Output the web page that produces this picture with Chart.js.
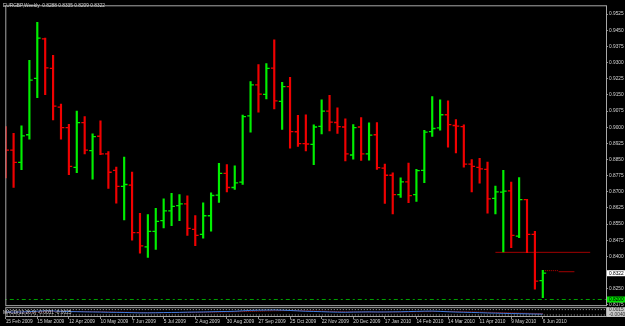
<!DOCTYPE html>
<html lang="en">
<head>
<meta charset="UTF-8">
<title>EURGBP Weekly</title>
<script src="https://cdn.jsdelivr.net/npm/chart.js@4.4.1/dist/chart.umd.min.js"></script>
<style>
  html, body { margin: 0; padding: 0; background: #000; }
  #wrap { width: 625px; height: 326px; }
</style>
</head>
<body>
<div id="wrap"><canvas id="fx" width="625" height="326"></canvas></div>
<script>
// weekly OHLC, one entry per week starting 15 Feb 2009
const symbolTitle = 'EURGBP,Weekly  0.8288 0.8335 0.8209 0.8322';
const opens = [0.8930,0.8894,0.8837,0.8965,0.9227, 0.9410,0.9273,0.9093,0.8998,0.8814,
  0.9021,0.8891,0.8958,0.8876,0.8800, 0.8725,0.8731,0.8511,0.8444,0.8516,
  0.8566,0.8612,0.8636,0.8644,0.8526, 0.8502,0.8589,0.8685,0.8786,0.8720,
  0.8745,0.9053,0.9197,0.9153,0.9274, 0.9120,0.9189,0.8979,0.8924,0.8920,
  0.9004,0.9075,0.9022,0.9001,0.8871, 0.9001,0.8876,0.8965,0.8810,0.8777,
  0.8687,0.8746,0.8687,0.8800,0.8980, 0.8997,0.9058,0.9008,0.9003,0.8829,
  0.8814,0.8804,0.8670,0.8699,0.8704, 0.8494,0.8664,0.8502,0.8288];
const highs = [0.9003,0.8972,0.9006,0.9311,0.9487, 0.9414,0.9334,0.9108,0.9013,0.9075,
  0.9049,0.8969,0.9030,0.8887,0.8815, 0.8861,0.8792,0.8600,0.8594,0.8623,
  0.8667,0.8693,0.8687,0.8681,0.8590, 0.8649,0.8695,0.8832,0.8827,0.8821,
  0.9056,0.9212,0.9291,0.9295,0.9406, 0.9209,0.9232,0.9055,0.9058,0.9011,
  0.9127,0.9148,0.9090,0.9039,0.9012, 0.9045,0.9020,0.9021,0.8829,0.8788,
  0.8765,0.8833,0.8804,0.8986,0.9142, 0.9127,0.9123,0.9036,0.9011,0.8850,
  0.8856,0.8838,0.8727,0.8800,0.8745, 0.8766,0.8665,0.8516,0.8335];
const lows = [0.8765,0.8720,0.8803,0.8945,0.9137, 0.9151,0.9034,0.8945,0.8780,0.8789,
  0.8876,0.8759,0.8873,0.8716,0.8647, 0.8569,0.8475,0.8415,0.8395,0.8432,
  0.8532,0.8543,0.8566,0.8498,0.8450, 0.8485,0.8517,0.8651,0.8699,0.8711,
  0.8734,0.8977,0.9070,0.9131,0.9085, 0.8990,0.8903,0.8911,0.8890,0.8826,
  0.8969,0.8983,0.8971,0.8844,0.8852, 0.8846,0.8847,0.8804,0.8646,0.8597,
  0.8674,0.8650,0.8655,0.8743,0.8957, 0.8986,0.8907,0.8881,0.8814,0.8699,
  0.8740,0.8601,0.8597,0.8421,0.8441, 0.8487,0.8418,0.8248,0.8209];
const closes = [0.8894,0.8837,0.8960,0.9219,0.9414, 0.9276,0.9098,0.8998,0.8818,0.9021,
  0.8894,0.8956,0.8876,0.8791,0.8725, 0.8734,0.8511,0.8449,0.8516,0.8563,
  0.8612,0.8632,0.8644,0.8530,0.8498, 0.8589,0.8683,0.8786,0.8720,0.8742,
  0.9049,0.9197,0.9154,0.9273,0.9122, 0.9189,0.8980,0.8924,0.8922,0.9001,
  0.9075,0.9024,0.9003,0.8876,0.8998, 0.8876,0.8963,0.8812,0.8777,0.8687,
  0.8746,0.8682,0.8798,0.8977,0.8994, 0.9058,0.9012,0.9005,0.8829,0.8818,
  0.8807,0.8667,0.8700,0.8703,0.8498, 0.8664,0.8502,0.8285,0.8322];

// indicator pane (blue main line, red dotted signal)
const macdLine = [-0.0009,-0.0010,-0.0009,-0.0006,-0.0001, 0.0002,0.0001,-0.0002,-0.0005,-0.0006,
  -0.0008,-0.0009,-0.0010,-0.0012,-0.0013, -0.0014,-0.0016,-0.0018,-0.0018,-0.0017,
  -0.0015,-0.0014,-0.0013,-0.0011,-0.0010, -0.0009,-0.0007,-0.0005,-0.0004,-0.0002,
  0.0003,0.0007,0.0009,0.0010,0.0011, 0.0009,0.0006,0.0002,-0.0002,-0.0004,
  -0.0006,-0.0009,-0.0011,-0.0012,-0.0010, -0.0009,-0.0008,-0.0009,-0.0009,-0.0008,
  -0.0007,-0.0005,-0.0003,-0.0001,0.0000, -0.0003,-0.0007,-0.0010,-0.0012,-0.0014,
  -0.0016,-0.0019,-0.0021,-0.0023,-0.0025, -0.0026,-0.0028,-0.0030,-0.0031];
const signalLine = [-0.0012,-0.0012,-0.0011,-0.0010,-0.0008, -0.0006,-0.0004,-0.0003,-0.0003,-0.0004,
  -0.0005,-0.0006,-0.0007,-0.0008,-0.0010, -0.0011,-0.0012,-0.0014,-0.0015,-0.0016,
  -0.0016,-0.0015,-0.0015,-0.0014,-0.0013, -0.0012,-0.0011,-0.0010,-0.0008,-0.0007,
  -0.0005,-0.0003,-0.0001,0.0001,0.0003, 0.0004,0.0005,0.0004,0.0003,0.0001,
  -0.0001,-0.0003,-0.0005,-0.0007,-0.0008, -0.0008,-0.0009,-0.0009,-0.0009,-0.0009,
  -0.0009,-0.0008,-0.0007,-0.0006,-0.0005, -0.0004,-0.0004,-0.0005,-0.0007,-0.0008,
  -0.0010,-0.0012,-0.0014,-0.0016,-0.0018, -0.0020,-0.0022,-0.0024,-0.0025];
const macdLevels = [0.0015, -0.0040];
const macdText = 'MACD(12,26,9) -0.0031 -0.0025';

// date labels every 4 weeks, price labels every 0.0075
const dateLabels = ['15 Feb 2009','15 Mar 2009','12 Apr 2009','10 May 2009','7 Jun 2009',
  '5 Jul 2009','2 Aug 2009','30 Aug 2009','27 Sep 2009','25 Oct 2009','22 Nov 2009',
  '20 Dec 2009','17 Jan 2010','14 Feb 2010','14 Mar 2010','11 Apr 2010','9 May 2010','6 Jun 2010'];
const priceTicks = [0.9525,0.9450,0.9375,0.9300,0.9225,0.9150,0.9075,0.9000,0.8925,0.8850,
  0.8775,0.8700,0.8625,0.8550,0.8475,0.8400,0.8325,0.8250,0.8175];

// horizontal lines drawn on the chart: [price, fromWeek, toWeek]
const supportLine = [0.8419, 62, 74];
const highMarkLine = [0.8334, 68, 70];
const bidMarkLine = [0.8329, 70, 72];
const alertLevel = 0.8200;

const weeks = opens.map((_, i) => i);
const UP = '#00f000', DOWN = '#f00000';
const colorOf = i => closes[i] >= opens[i] ? UP : DOWN;
const barColors = weeks.map(colorOf);
const FONT = "'Liberation Sans', Arial, sans-serif";
const TEXT = '#d4d4d4';

function hline(spec, color, dash, axis) {
  return {
    type: 'line', yAxisID: axis || 'y',
    data: [{x: spec[1], y: spec[0]}, {x: spec[2], y: spec[0]}],
    borderColor: color, borderWidth: 1, borderDash: dash || [],
    pointRadius: 0, fill: false
  };
}

const overlay = {
  id: 'overlay',
  beforeDraw(chart) {
    const c = chart.ctx;
    c.save();
    c.fillStyle = '#000';
    c.fillRect(0, 0, chart.width, chart.height);
    c.restore();
  },
  afterDraw(chart) {
    const c = chart.ctx, a = chart.chartArea, y = chart.scales.y, y2 = chart.scales.y2;
    c.save();
    c.strokeStyle = '#a8a8a8';
    c.lineWidth = 1;
    c.strokeRect(a.left + 0.5, y.top + 0.5, a.right - a.left, y.bottom - y.top - 1);
    c.strokeRect(a.left + 0.5, y2.top + 1.5, a.right - a.left, y2.bottom - y2.top - 2);

    c.font = '4.8px ' + FONT;
    c.textBaseline = 'middle';
    c.fillStyle = TEXT;
    c.fillText(symbolTitle, 3, 5.5);
    c.fillText(macdText, 3, y2.getPixelForValue(macdLine[macdLine.length - 1]) - 1);

    const box = (v, bg, fg) => {
      const py = y.getPixelForValue(v);
      c.fillStyle = bg;
      c.fillRect(a.right + 1, py - 3, chart.width - a.right - 1, 6);
      c.fillStyle = fg;
      c.fillText(v.toFixed(4), a.right + 3, py + 0.3);
    };
    box(closes[closes.length - 1], '#ffffff', '#000000');
    box(alertLevel, '#00e000', '#000000');

    c.fillStyle = '#c8c8c8';
    c.fillRect(a.right + 1, y2.top + 1, chart.width - a.right - 1, y2.bottom - y2.top - 1);
    c.fillStyle = '#303030';
    macdLevels.forEach(v => c.fillText(v.toFixed(4), a.right + 3, y2.getPixelForValue(v)));
    c.restore();
  }
};

new Chart(document.getElementById('fx'), {
  type: 'bar',
  data: {
    datasets: [
      {
        type: 'bar',
        data: weeks.map(i => ({x: i, y: [lows[i], highs[i]]})),
        backgroundColor: barColors, borderWidth: 0, barThickness: 1.5, grouped: false
      },
      {
        type: 'scatter',
        data: weeks.map(i => ({x: i - 0.22, y: opens[i]})),
        pointStyle: 'line', pointRadius: 1.6, pointBorderWidth: 1.3,
        pointBorderColor: barColors, pointBackgroundColor: barColors
      },
      {
        type: 'scatter',
        data: weeks.map(i => ({x: i + 0.22, y: closes[i]})),
        pointStyle: 'line', pointRadius: 1.6, pointBorderWidth: 1.3,
        pointBorderColor: barColors, pointBackgroundColor: barColors
      },
      hline(supportLine, '#a00000'),
      hline(highMarkLine, '#c00000', [1, 1]),
      hline(bidMarkLine, '#a00000'),
      hline([alertLevel, -1, 77], '#00a000', [4, 3, 2, 3]),
      hline([macdLevels[0], -1, 77], '#b0b0b0', [1, 2], 'y2'),
      hline([macdLevels[1], -1, 77], '#b0b0b0', [1, 2], 'y2'),
      {
        type: 'line', yAxisID: 'y2',
        data: weeks.map(i => ({x: i, y: macdLine[i]})),
        borderColor: '#3c7ce0', borderWidth: 1, pointRadius: 0, fill: false
      },
      {
        type: 'line', yAxisID: 'y2',
        data: weeks.map(i => ({x: i, y: signalLine[i]})),
        borderColor: '#d02020', borderWidth: 1, borderDash: [1, 1], pointRadius: 0, fill: false
      }
    ]
  },
  options: {
    responsive: false,
    animation: false,
    events: [],
    layout: { padding: { left: 1, top: 1, right: 0, bottom: 0 } },
    plugins: { legend: { display: false }, tooltip: { enabled: false } },
    scales: {
      x: {
        type: 'linear', min: -0.05, max: 76, offset: false,
        afterBuildTicks: s => { s.ticks = dateLabels.map((_, k) => ({value: k * 4})); },
        afterFit: s => { s.height = 9; },
        ticks: {
          color: TEXT, font: { family: FONT, size: 4.8 }, align: 'start', padding: 0,
          maxRotation: 0, autoSkip: false,
          callback: (v, idx) => dateLabels[idx]
        },
        grid: { offset: false, drawOnChartArea: false, tickLength: 2, color: '#8c8c8c' },
        border: { display: false }
      },
      y: {
        type: 'linear', position: 'right', stack: 'pane', stackWeight: 305,
        min: 0.81691, max: 0.95662,
        afterBuildTicks: s => { s.ticks = priceTicks.map(v => ({value: v})); },
        afterFit: s => { s.width = 19; },
        ticks: {
          color: TEXT, font: { family: FONT, size: 4.8 }, padding: 1, autoSkip: false,
          callback: v => v.toFixed(4)
        },
        grid: { drawOnChartArea: false, tickLength: 2, color: '#8c8c8c' },
        border: { display: false }
      },
      y2: {
        type: 'linear', position: 'right', stack: 'pane', stackWeight: 11,
        min: -0.006, max: 0.005,
        afterFit: s => { s.width = 19; },
        ticks: { display: false },
        grid: { display: false },
        border: { display: false }
      }
    }
  },
  plugins: [overlay]
});
</script>
</body>
</html>
